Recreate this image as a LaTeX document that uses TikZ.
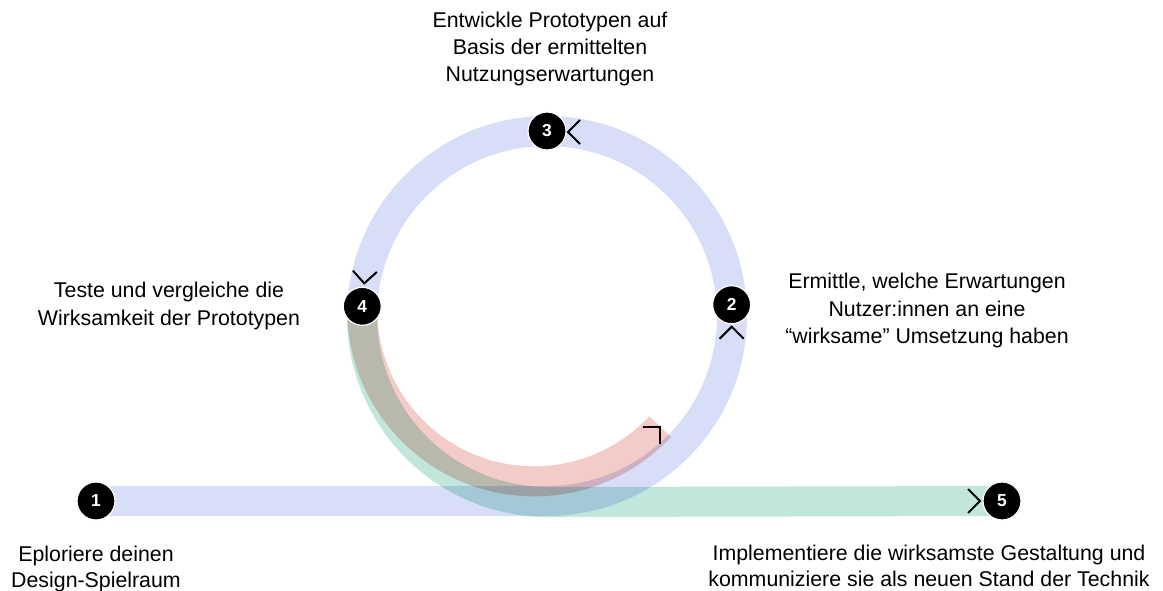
\documentclass[tikz,border=0pt]{standalone}
\usepackage{fontspec}
\setmainfont{Liberation Sans}
\usepackage{tikz}
\usetikzlibrary{calc}

\definecolor{bandblue}{RGB}{216,222,247}
\definecolor{bandteal}{RGB}{193,231,221}
\definecolor{bandred}{RGB}{244,204,199}

\pgfdeclarelayer{bg}
\pgfsetlayers{bg,main}

\tikzset{
  band/.style={line width=22.5pt},
  numnode/.style={circle, fill=black, draw=white, line width=0.9pt, minimum size=28.5pt,
    inner sep=0pt, text=white, font=\bfseries\fontsize{13}{13}\selectfont},
  captext/.style={align=center, anchor=north, inner sep=0pt,
    font=\fontsize{16}{20.5}\selectfont},
  chev/.pic={\draw[line width=1.5pt] (-12,-12) -- (0,0) -- (-12,12);}
}

\begin{document}
\begin{tikzpicture}[x=0.75pt,y=0.75pt,yscale=-1,xscale=1]
\useasboundingbox (0,0) rectangle (1163,591);

\coordinate (ctr) at (547,316);

% Step nodes
\node[numnode] (n1) at (96,501) {1};
\node[numnode] (n2) at ([shift={(-3.5:185)}]ctr) {2};
\node[numnode] (n3) at ([shift={(-90:185)}]ctr) {3};
\node[numnode] (n4) at ([shift={(183:185)}]ctr) {4};
\node[numnode] (n5) at (1002,501) {5};

% Bands
\begin{pgfonlayer}{bg}
\begin{scope}[blend group=multiply]
\draw[band, bandblue] (n1.center) -- (n1 -| ctr) arc[start angle=90, end angle=-177, radius=185];
\draw[band, bandteal] (n4.center) arc[start angle=183, end angle=90, radius=186] -- (n5.center);
\draw[band, bandred] (n4.center) arc[start angle=181, end angle=43, radius=172] coordinate (rend);
\end{scope}
\end{pgfonlayer}

% Arrow marks
\pic[rotate=90] at ($(n2)+(0,22)$) {chev};
\pic[rotate=180] at ($(n3)+(21,1)$) {chev};
\pic[rotate=-93] at ($(n4)+(2,-23)$) {chev};
\pic at ($(n5)+(-22,0)$) {chev};
\pic[rotate=45] at (rend) {chev};

% Text Node
\node[captext] (t3) at (550,11.5) {Entwickle Prototypen auf\\Basis der ermittelten\\Nutzungserwartungen};
% Text Node
\node[captext] (t2) at (927,273) {Ermittle, welche Erwartungen\\Nutzer:innen an eine\\“wirksame” Umsetzung haben};
% Text Node
\node[captext] (t4) at (169,282) {Teste und vergleiche die\\Wirksamkeit der Prototypen};
% Text Node
\node[captext, font=\fontsize{16}{19.5}\selectfont] (t1) at (96,546) {Eploriere deinen\\Design-Spielraum};
% Text Node
\node[captext, font=\fontsize{16}{19.5}\selectfont] (t5) at (929,545) {Implementiere die wirksamste Gestaltung und\\kommuniziere sie als neuen Stand der Technik};
\end{tikzpicture}
\end{document}
